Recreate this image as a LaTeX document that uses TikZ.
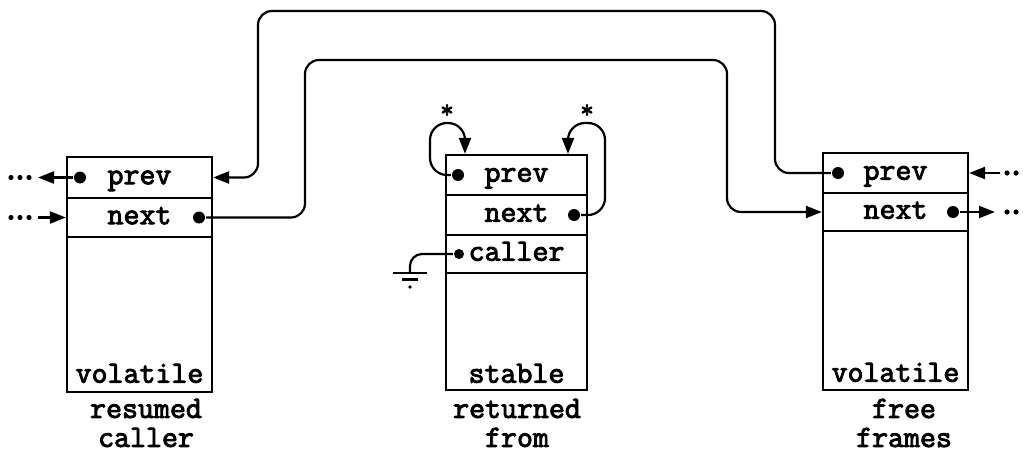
\documentclass[tikz,border=0pt]{standalone}
\usepackage{fontspec}
\newfontfamily\boxfont{Latin Modern Mono}[FakeBold=3]
\usetikzlibrary{arrows.meta}

\begin{document}
\begin{tikzpicture}[x=1pt, y=-1pt, line width=2.2pt,
  cell/.style={draw, inner sep=0pt, text height=20pt, text depth=6.6pt,
    font={\fontsize{31}{31}\boxfont}},
  word/.style={inner sep=0pt, text height=20pt, text depth=6.6pt,
    font={\fontsize{31}{31}\boxfont}},
  caption/.style={inner sep=0pt, align=center, font={\fontsize{31}{29}\boxfont}},
  ptr/.style={circle, fill, inner sep=0pt, minimum size=12pt},
  arr/.style={-{Triangle[length=16pt, width=12pt]}},
  link/.style={arr, rounded corners=14pt},
  loop/.style={arr, rounded corners=17pt},
  star/.style={inner sep=0pt, anchor=base, font={\fontsize{26}{26}\boxfont}}]
\useasboundingbox (0,0) rectangle (1023,452);

% resumed caller frame
\node[cell, minimum width=145pt, minimum height=41pt]  (Lprev) at (139.5,177.5) {prev};
\node[cell, minimum width=145pt, minimum height=39pt]  (Lnext) at (139.5,217.5) {next};
\node[cell, minimum width=145pt, minimum height=155pt] (Lbody) at (139.5,314.5) {};
\node[word] (Lvol) at (139.5,376) {volatile};
\node[caption] (Lcap) at (146,423) {resumed\\caller};

% returned-from frame
\node[cell, minimum width=141pt, minimum height=40pt]  (Mprev) at (516.5,175) {prev};
\node[cell, minimum width=141pt, minimum height=40pt]  (Mnext) at (516.5,215) {next};
\node[cell, minimum width=141pt, minimum height=38pt]  (Mcall) at (516.5,254) {caller};
\node[cell, minimum width=141pt, minimum height=117pt] (Mbody) at (516.5,331.5) {};
\node[word] (Mstab) at (516.5,376) {stable};
\node[caption] (Mcap) at (517,423) {returned\\from};

% free frames
\node[cell, minimum width=145pt, minimum height=40pt]  (Rprev) at (895.5,173) {prev};
\node[cell, minimum width=145pt, minimum height=38pt]  (Rnext) at (895.5,212) {next};
\node[cell, minimum width=145pt, minimum height=159pt] (Rbody) at (895.5,310.5) {};
\node[word] (Rvol) at (895.5,375) {volatile};
\node[caption] (Rcap) at (904,423) {free\\frames};

% pointer dots
\node[ptr] (Lpd) at (80,177.5) {};
\node[ptr] (Lnd) at (199,217.5) {};
\node[ptr] (Mpd) at (458,175) {};
\node[ptr] (Mnd) at (574,215) {};
\node[ptr, minimum size=10pt] (Mcd) at (459,254) {};
\node[ptr] (Rpd) at (838,173) {};
\node[ptr] (Rnd) at (953,212) {};

% open ends of the list
\coordinate (Lpe) at (38,177.5);
\coordinate (Lne) at (38,217.5);
\coordinate (Rpe) at (1000,173);
\coordinate (Rne) at (995,212);
\foreach \x in {11,20,29} {
  \fill (\x,177.5) circle (2.6pt);
  \fill (\x,217.5) circle (2.6pt);
}
\foreach \x in {1007,1016} {
  \fill (\x,173) circle (2.6pt);
  \fill (\x,212) circle (2.6pt);
}
\draw[arr] (Lpd) -- (Lpe);
\draw[arr] (Lne) -- (Lnext.west);
\draw[arr] (Rpe) -- (Rprev.east);
\draw[arr] (Rnd) -- (Rne);

% links between the resumed caller and the free frames
\draw[link] (Rpd) -- (775,173) -- (775,11) -- (258,11) -- (258,177.5) -- (Lprev.east);
\draw[link] (Lnd) -- (305,217.5) -- (305,60) -- (727,60) -- (727,212) -- (Rnext.west);

% self links of the returned-from frame
\coordinate (Mla) at (465,123);
\coordinate (Mra) at (568,123);
\draw[loop] (Mpd) -- (430,175) -- (430,123) -- (Mla) -- (Mla |- Mprev.north);
\draw[loop] (Mnd) -- (605,215) -- (605,123) -- (Mra) -- (Mra |- Mprev.north);
\node[star] (s1) at (447,118) {*};
\node[star] (s2) at (587,118) {*};

% caller is grounded
\coordinate (Gnd) at (410,273);
\draw[rounded corners=12pt] (Mcd) -- (410,254) -- (Gnd);
\draw (393,273) -- (427,273);
\draw (402,279.5) -- (418,279.5);
\fill (410,287) circle (1.8pt);
\end{tikzpicture}
\end{document}
